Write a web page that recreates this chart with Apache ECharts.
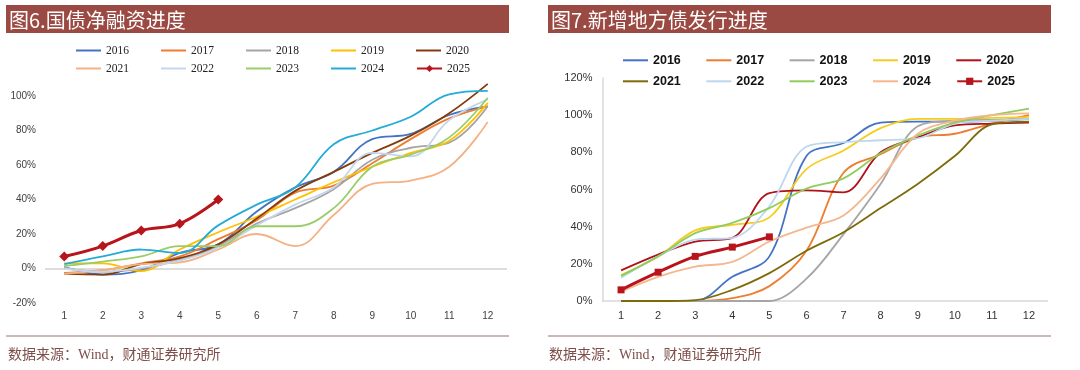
<!DOCTYPE html>
<html>
<head>
<meta charset="utf-8">
<script src="https://cdn.jsdelivr.net/npm/echarts@6/dist/echarts.min.js"></script>
<style>
  html, body { margin: 0; padding: 0; background: #fff; }
  #wrap { position: relative; width: 1080px; height: 370px; }
  #c1 { position: absolute; left: 0; top: 0; width: 540px; height: 370px; }
  #c2 { position: absolute; left: 540px; top: 0; width: 540px; height: 370px; }
</style>
</head>
<body>
<div id="wrap"><div id="c1"></div><div id="c2"></div></div>
<script>
// ---------- data ----------
const months = ['1','2','3','4','5','6','7','8','9','10','11','12'];
const years = ['2016','2017','2018','2019','2020','2021','2022','2023','2024','2025'];
const leftTitle = '图6.国债净融资进度';
const rightTitle = '图7.新增地方债发行进度';
const sourceText = '数据来源：Wind，财通证券研究所';
const leftYTicks = [-20, 0, 20, 40, 60, 80, 100];
const rightYTicks = [0, 20, 40, 60, 80, 100, 120];

// 图6 国债净融资进度 (%)
const gov2016 = [1, -3.5, -1, 9, 14, 33, 47, 56, 75, 78, 89, 94];
const gov2017 = [-2.5, -1, 3, 7, 17, 28, 44, 48, 61, 75, 87, 94];
const gov2018 = [0.5, -2, 0, 5, 13, 26, 35, 46, 63, 70, 73, 94];
const gov2019 = [3, 3, -1.5, 11, 21, 30, 40, 50, 59, 67, 74, 96];
const gov2020 = [-3, -3.5, 2.5, 6, 14, 29, 45, 56, 67, 77, 90, 107];
const gov2021 = [-3, -1, 2.5, 3.5, 11, 20, 13, 31, 49, 51, 59, 85];
const gov2022 = [0, -2, 0.5, 4.5, 12, 25, 37, 47, 67, 65, 86, 98];
const gov2023 = [1.5, 4, 7, 13, 13, 24.5, 24.5, 35, 59, 66, 76, 99];
const gov2024 = [2.5, 7, 11, 9, 25, 37, 47, 72, 80, 88, 101, 103];
const gov2025 = [7, 13, 22, 26, 40];

// 图7 新增地方债发行进度 (%)
const loc2016 = [0, 0, 0, 13, 24, 78, 85, 96, 96.5, 96.5, 97, 98];
const loc2017 = [0, 0, 0, 1.5, 8, 27, 69, 79, 88, 90, 95.5, 100];
const loc2018 = [0, 0, 0, 0, 0, 12, 36, 63, 94, 97, 97.5, 98];
const loc2019 = [14, 24, 38, 41, 45, 71, 81, 93, 98, 98, 98.5, 99];
const loc2020 = [16.5, 25, 32, 34, 58, 59.5, 58.5, 80, 88, 94.5, 95.5, 96];
const loc2021 = [0, 0, 0.5, 6, 15, 27, 37, 50, 63, 78, 95, 96.5];
const loc2022 = [12.5, 24, 33, 34, 51, 83, 85.5, 86.5, 87.5, 95.5, 97, 98];
const loc2023 = [13.5, 24, 36.5, 42, 50, 60.5, 66, 79.5, 89, 96, 100, 103.5];
const loc2024 = [5, 13, 18.5, 21, 32, 39.5, 46, 66, 90, 97, 100, 101];
const loc2025 = [6, 15.5, 24, 29, 34.5];

const govData = [gov2016, gov2017, gov2018, gov2019, gov2020, gov2021, gov2022, gov2023, gov2024, gov2025];
const locData = [loc2016, loc2017, loc2018, loc2019, loc2020, loc2021, loc2022, loc2023, loc2024, loc2025];

const leftColors = ['#4472C4','#ED7D31','#A5A5A5','#FFC000','#843C0C','#F4B183','#C5D6EC','#9ACD68','#25ACD6','#B8141B'];
const rightColors = ['#4472C4','#ED7D31','#A5A5A5','#F5CD1E','#B0121A','#7F6A0A','#BDD7EE','#92CC5C','#F4B78E','#B8141B'];

// ---------- helpers ----------
const HEADER = '#9B4A43';
const LINE_ICON = 'path://M0,0 L25,0 L25,2 L0,2 Z';

function frame(titleText) {
  return [
    { type: 'rect', shape: { x: 6, y: 5, width: 503, height: 28 }, style: { fill: HEADER }, silent: true },
    { type: 'text', style: { text: titleText, x: 9, y: 20, fill: '#ffffff', font: '20px "Noto Sans CJK SC"', verticalAlign: 'middle', align: 'left' }, silent: true },
    { type: 'line', shape: { x1: 6, y1: 336, x2: 509, y2: 336 }, style: { stroke: '#957572', lineWidth: 1.2 }, silent: true },
    { type: 'text', style: { text: sourceText, x: 8, y: 355, fill: '#7E4E4A', font: '14px "Liberation Serif", "Noto Sans CJK SC"', verticalAlign: 'middle', align: 'left' }, silent: true }
  ];
}

function makeSeries(dataArr, colors, marker, smooth) {
  return years.map((y, i) => {
    const last = i === years.length - 1;
    return {
      name: y,
      type: 'line',
      data: dataArr[i],
      smooth: smooth,
      symbol: last ? marker : 'none',
      symbolSize: last ? (marker === 'diamond' ? 10 : 7) : 0,
      showSymbol: last,
      itemStyle: { color: colors[i] },
      lineStyle: { color: colors[i], width: last ? 3 : 1.8 },
      z: last ? 5 : 2,
      emphasis: { disabled: true }
    };
  });
}

function legendRows(leftX, rowYs, gap, textStyle) {
  return [years.slice(0, 5), years.slice(5)].map((row, r) => ({
    data: row.map(n => (n === '2025' ? { name: n } : { name: n, icon: LINE_ICON })),
    left: leftX,
    top: rowYs[r] - 4.5,
    padding: 0,
    orient: 'horizontal',
    itemWidth: 25,
    itemHeight: 9,
    itemGap: gap,
    selectedMode: false,
    textStyle: textStyle
  }));
}

// ---------- left chart ----------
const c1 = echarts.init(document.getElementById('c1'), null, { renderer: 'canvas' });
const s1 = makeSeries(govData, leftColors, 'diamond', 0.4);
s1[0].markLine = {
  silent: true, symbol: 'none', label: { show: false },
  lineStyle: { color: '#DCDCDC', width: 2, type: 'solid' },
  data: [{ yAxis: 0 }], z: 1
};
c1.setOption({
  animation: false,
  backgroundColor: '#ffffff',
  graphic: frame(leftTitle),
  legend: legendRows(76, [49, 67], 32, { fontFamily: 'Liberation Serif', fontSize: 11.5, color: '#222' }),
  grid: { left: 45, top: 61.5, width: 462, height: 241.5, containLabel: false },
  xAxis: {
    type: 'category', data: months, boundaryGap: true,
    axisLine: { show: false, onZero: false }, axisTick: { show: false },
    axisLabel: { margin: 8, color: '#404040', fontFamily: 'Liberation Sans', fontSize: 10 }
  },
  yAxis: {
    type: 'value', min: -20, max: 120, interval: 20,
    axisLine: { show: false }, axisTick: { show: false }, splitLine: { show: false },
    axisLabel: {
      margin: 9, color: '#404040', fontFamily: 'Liberation Sans', fontSize: 10,
      formatter: v => (leftYTicks.indexOf(v) >= 0 ? v + '%' : '')
    }
  },
  series: s1
});

// ---------- right chart ----------
const c2 = echarts.init(document.getElementById('c2'), null, { renderer: 'canvas' });
const f2 = frame(rightTitle).map(g => {
  const o = JSON.parse(JSON.stringify(g));
  if (o.type === 'rect') { o.shape.x = 8; }
  if (o.type === 'line') { o.shape.x1 = 8; o.shape.x2 = 511; }
  if (o.type === 'text') { o.style.x = o.style.y < 100 ? 11 : 9; }
  return o;
});
c2.setOption({
  animation: false,
  backgroundColor: '#ffffff',
  graphic: f2,
  legend: legendRows(83, [58.3, 79.3], 25.5, { fontFamily: 'Liberation Sans', fontWeight: 'bold', fontSize: 12.5, color: '#111' }),
  grid: { left: 62.5, top: 78, width: 445, height: 223, containLabel: false },
  xAxis: {
    type: 'category', data: months, boundaryGap: true,
    axisLine: { show: true, lineStyle: { color: '#D9D9D9', width: 1.5 } }, axisTick: { show: false },
    axisLabel: { margin: 9, color: '#333', fontFamily: 'Liberation Sans', fontSize: 11 }
  },
  yAxis: {
    type: 'value', min: 0, max: 120, interval: 20,
    axisLine: { show: true, lineStyle: { color: '#D9D9D9', width: 1.5 } }, axisTick: { show: false }, splitLine: { show: false },
    axisLabel: {
      margin: 10, color: '#333', fontFamily: 'Liberation Sans', fontSize: 11,
      formatter: v => (rightYTicks.indexOf(v) >= 0 ? v + '%' : '')
    }
  },
  series: makeSeries(locData, rightColors, 'rect', 0.35)
});
</script>
</body>
</html>
